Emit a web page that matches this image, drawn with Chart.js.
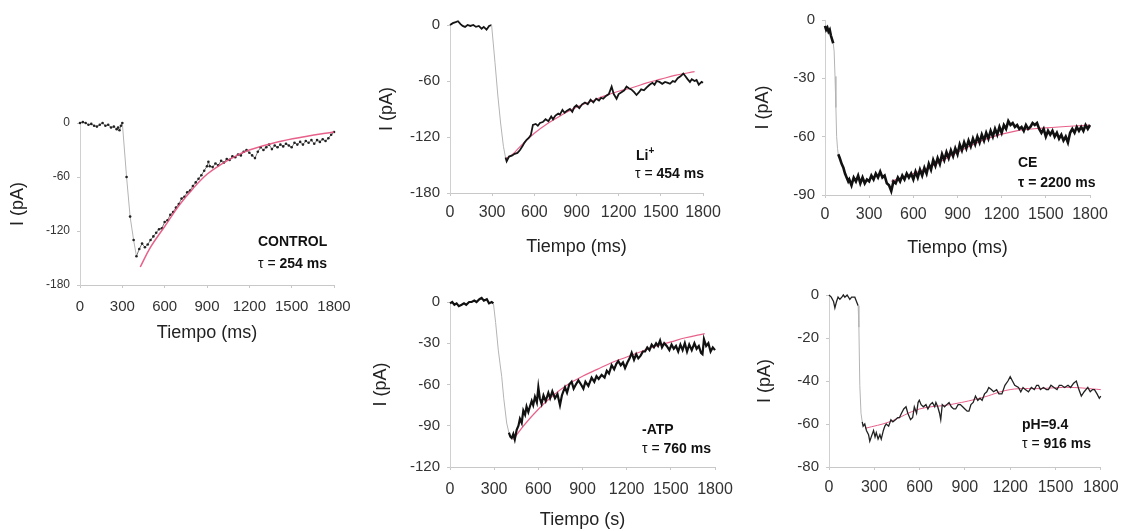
<!DOCTYPE html>
<html>
<head>
<meta charset="utf-8">
<script src="https://cdn.jsdelivr.net/npm/chart.js@4"></script>
<style>
body { margin: 0; background: #fff; width: 1127px; height: 531px; position: relative; overflow: hidden; font-family: "Liberation Sans", Arial, sans-serif; }
canvas { position: absolute; }
.note { position: absolute; font-size: 14px; font-weight: bold; color: #111; line-height: 16px; white-space: nowrap; transform: translateY(-50%); }
.note .t { font-weight: normal; }
.note sup { font-size: 10px; line-height: 0; }
</style>
</head>
<body>
<canvas id="c-control"></canvas>
<canvas id="c-li"></canvas>
<canvas id="c-ce"></canvas>
<canvas id="c-atp"></canvas>
<canvas id="c-ph"></canvas>

<div class="note" style="left:258px;top:241px">CONTROL</div>
<div class="note" style="left:258px;top:263px"><span class="t">τ = </span>254 ms</div>
<div class="note" style="left:636px;top:155px">Li<sup>+</sup></div>
<div class="note" style="left:635px;top:173px"><span class="t">τ = </span>454 ms</div>
<div class="note" style="left:1018px;top:162px">CE</div>
<div class="note" style="left:1018px;top:182px">τ = 2200 ms</div>
<div class="note" style="left:642px;top:429px">-ATP</div>
<div class="note" style="left:642px;top:448px"><span class="t">τ = </span>760 ms</div>
<div class="note" style="left:1022px;top:424px">pH=9.4</div>
<div class="note" style="left:1022px;top:443px"><span class="t">τ = </span>916 ms</div>

<script>
// time (ms), current (pA) pairs
var ctrlTrace = [[0,0],[20,1],[40,0],[60,-2],[80,-1],[100,-3],[120,-4],[140,-2],[160,0],[180,-3],[200,-2],[220,-5],[240,-4],[260,-7],[270,-5],[280,-8],[290,-3],[300,0],
  [330,-60],[355,-104],[380,-130],[400,-148],[420,-140],[440,-134],[460,-138],[480,-135],[500,-130],[520,-126],[540,-122],[560,-118],[580,-117],[600,-110],
  [620,-108],[640,-102],[660,-99],[680,-94],[700,-90],[720,-84],[740,-82],[760,-77],[780,-75],[800,-70],[820,-66],[840,-62],[860,-58],[880,-53],[900,-48],
  [910,-43],[920,-48],[940,-49],[960,-45],[980,-47],[1000,-42],[1020,-44],[1040,-40],[1060,-41],[1080,-37],[1100,-38],[1120,-35],[1140,-36],[1160,-32],
  [1180,-30],[1200,-33],[1220,-36],[1240,-39],[1260,-32],[1280,-27],[1300,-30],[1320,-27],[1340,-24],[1360,-29],[1380,-25],[1400,-27],[1420,-24],[1440,-26],
  [1460,-23],[1480,-25],[1500,-27],[1520,-22],[1540,-24],[1560,-21],[1580,-24],[1600,-20],[1620,-22],[1640,-19],[1660,-23],[1680,-19],[1700,-21],[1720,-18],
  [1740,-20],[1760,-17],[1780,-13],[1800,-10]];
var ctrlFit = [[427,-160],[500,-138],[600,-115],[700,-92],[800,-73],[900,-57],[1000,-46],[1100,-37],[1200,-30],[1400,-21],[1600,-15],[1800,-10]];

var liTrace = [[0,0],[20,2],[40,3],[57,4],[75,1],[90,-1],[107,-2],[125,0],[145,-1],[166,0],[185,-2],[205,-1],[225,-4],[240,-2],[260,-5],[278,-1],[296,0],
  [320,-40],[340,-75],[360,-105],[380,-130],[395,-142],[403,-146],[420,-141],[440,-140],[460,-138],[480,-137],[498,-134],[515,-130],[530,-126],[545,-123],
  [560,-121],[575,-118],[590,-107],[610,-106],[625,-108],[640,-105],[660,-104],[680,-101],[700,-103],[720,-98],[733,-101],[750,-97],[770,-95],[782,-96],
  [800,-91],[815,-94],[830,-92],[853,-90],[870,-93],[885,-88],[900,-86],[920,-89],[940,-85],[960,-83],[980,-85],[1000,-80],[1020,-83],[1040,-79],[1060,-81],
  [1075,-78],[1090,-79],[1110,-76],[1130,-74],[1150,-66],[1165,-74],[1185,-79],[1200,-74],[1220,-72],[1240,-70],[1256,-66],[1275,-68],[1290,-69],[1310,-72],
  [1327,-75],[1345,-72],[1360,-69],[1380,-70],[1398,-67],[1420,-64],[1440,-62],[1455,-64],[1470,-60],[1490,-61],[1510,-63],[1530,-61],[1550,-62],[1565,-63],
  [1585,-60],[1600,-61],[1620,-57],[1640,-55],[1660,-52],[1675,-55],[1690,-58],[1707,-61],[1720,-58],[1740,-60],[1754,-59],[1770,-64],[1790,-61],[1800,-62]];
var liFit = [[400,-143],[450,-138],[500,-130],[600,-116],[700,-105],[800,-96],[900,-88],[1000,-82],[1100,-76],[1200,-71],[1300,-67],[1400,-62],[1500,-58],[1600,-54],[1740,-50]];

var ceTrace = [[0,-3],[8,-5],[16,-4],[24,-6],[32,-5],[40,-8],[48,-10],[56,-12],[62,-16],[68,-29],[74,-45],[79,-60],[85,-66],[90,-69],[100,-71],[113,-74],
  [125,-76],[136,-79],[147,-81],[158,-83],[165,-82],[180,-85],[195,-81],[210,-83],[225,-80],[240,-84],[255,-81],[270,-84],[285,-82],[300,-83],[315,-80],
  [330,-82],[345,-79],[360,-81],[375,-78],[390,-81],[405,-80],[420,-84],[435,-85],[450,-88],[465,-83],[480,-84],[495,-81],[510,-83],[525,-80],[540,-82],
  [555,-79],[570,-81],[585,-79],[600,-82],[615,-78],[630,-81],[645,-77],[660,-80],[675,-76],[690,-79],[705,-74],[720,-77],[735,-72],[750,-75],[765,-71],
  [780,-74],[795,-69],[810,-72],[825,-68],[840,-71],[855,-67],[870,-70],[885,-66],[900,-69],[915,-64],[930,-67],[945,-63],[960,-66],[975,-62],[990,-65],
  [1005,-61],[1020,-64],[1035,-60],[1050,-63],[1065,-59],[1080,-62],[1095,-58],[1110,-61],[1125,-57],[1140,-60],[1155,-56],[1170,-59],[1185,-55],[1200,-58],
  [1215,-54],[1230,-56],[1245,-52],[1260,-54],[1275,-53],[1290,-55],[1305,-54],[1320,-56],[1335,-55],[1350,-57],[1365,-54],[1380,-56],[1395,-55],[1410,-53],
  [1425,-54],[1440,-53],[1455,-56],[1470,-58],[1485,-56],[1500,-60],[1515,-57],[1530,-59],[1545,-57],[1560,-60],[1575,-58],[1590,-61],[1605,-59],[1620,-62],
  [1635,-60],[1650,-63],[1665,-58],[1680,-56],[1695,-58],[1710,-55],[1725,-57],[1740,-55],[1755,-57],[1770,-54],[1785,-56],[1800,-54]];
var ceFit = [[450,-83],[700,-76],[900,-68],[1100,-61],[1300,-57],[1500,-55.5],[1800,-54]];

var atpTrace = [[0,-1],[15,0],[30,-2],[45,-1],[60,-3],[79,-2],[95,-1],[110,-2],[130,0],[147,0],[165,1],[180,0],[200,2],[215,3],[230,1],[250,2],[265,-1],[283,0],[295,-1],
  [310,-15],[328,-35],[340,-45],[351,-54],[365,-70],[385,-88],[400,-95],[410,-98],[419,-99],[430,-96],[440,-100],[453,-93],[465,-90],[475,-85],[487,-88],
  [498,-79],[510,-82],[520,-76],[532,-80],[543,-76],[555,-72],[565,-75],[577,-69],[590,-73],[600,-62],[610,-70],[622,-74],[635,-68],[650,-72],[668,-66],
  [680,-70],[695,-65],[713,-70],[730,-67],[747,-75],[760,-68],[770,-65],[781,-62],[795,-66],[810,-60],[826,-58],[840,-63],[855,-60],[872,-57],[890,-60],
  [906,-63],[920,-58],[940,-61],[962,-55],[980,-58],[995,-54],[1010,-56],[1030,-53],[1050,-55],[1065,-50],[1080,-52],[1098,-46],[1115,-49],[1130,-45],
  [1143,-43],[1160,-46],[1175,-44],[1189,-48],[1205,-44],[1220,-41],[1234,-37],[1250,-42],[1265,-38],[1279,-41],[1295,-39],[1310,-36],[1325,-36],[1340,-33],
  [1355,-35],[1370,-31],[1385,-33],[1400,-30],[1413,-32],[1427,-28],[1440,-33],[1455,-30],[1472,-32],[1490,-35],[1505,-31],[1520,-34],[1535,-32],[1550,-36],
  [1565,-31],[1580,-35],[1595,-30],[1610,-36],[1625,-31],[1642,-35],[1660,-30],[1675,-34],[1690,-32],[1705,-37],[1715,-38],[1725,-27],[1740,-32],[1755,-30],
  [1770,-36],[1785,-33],[1800,-35]];
var atpFit = [[430,-100],[500,-90],[600,-78],[700,-68],[800,-60],[900,-54],[1000,-49],[1100,-44],[1200,-40],[1300,-36],[1400,-32],[1500,-29],[1600,-26],[1730,-23]];

var phTrace = [[0,0],[15,-1],[30,-3],[39,-6],[50,-3],[60,-1],[72,-2],[85,-1],[95,0],[105,-1],[120,0],[138,-2],[150,-1],[160,-1],[171,-1],[182,-3],[193,-5],
  [198,-15],[204,-42],[212,-55],[220,-59],[226,-61],[237,-60],[248,-63],[262,-65],[270,-68],[280,-66],[295,-63],[305,-66],[313,-64],[325,-67],[337,-65],
  [346,-67],[360,-63],[370,-61],[379,-60],[395,-61],[410,-58],[423,-59],[440,-58],[455,-57],[467,-57],[480,-55],[495,-53],[510,-52],[522,-55],[540,-58],
  [554,-57],[565,-52],[580,-55],[590,-50],[598,-49],[610,-51],[625,-52],[642,-51],[655,-53],[670,-51],[685,-50],[700,-52],[708,-50],[720,-52],[732,-55],
  [740,-58],[750,-51],[765,-52],[780,-51],[795,-50],[810,-52],[825,-53],[839,-53],[855,-51],[870,-51],[885,-52],[900,-53],[915,-54],[927,-54],[940,-51],
  [955,-50],[970,-47],[985,-49],[1000,-48],[1014,-49],[1030,-46],[1045,-45],[1058,-43],[1075,-44],[1090,-45],[1110,-44],[1125,-46],[1145,-46],[1165,-42],
  [1185,-40],[1200,-38],[1215,-40],[1230,-42],[1255,-43],[1270,-45],[1285,-43],[1300,-44],[1321,-45],[1340,-43],[1360,-44],[1375,-42],[1387,-42],[1400,-44],
  [1420,-43],[1440,-44],[1453,-44],[1470,-42],[1490,-43],[1510,-44],[1525,-42],[1540,-42],[1560,-43],[1583,-42],[1600,-43],[1620,-41],[1638,-40],[1655,-44],
  [1671,-47],[1690,-45],[1714,-43],[1730,-45],[1745,-44],[1758,-44],[1775,-46],[1790,-48],[1800,-47]];
var phFit = [[240,-62],[400,-59],[600,-53],[800,-51],[1000,-48],[1200,-44],[1400,-43.5],[1600,-43],[1800,-44]];

var xRange = [0, 1800, 300];
var PINK = 'rgba(228,80,125,0.9)';
var FONT = '"Liberation Sans", Arial, sans-serif';
var TITLE_SIZE = 18;

function pts(pairs) {
    return pairs.map(function (p) { return {x: p[0], y: p[1]}; });
}

// box = pixel rect of the axes on the page, the rest is text placement
// drop = time window (ms) where the trace is drawn as a thin grey jump
var panels = [
    {id: 'c-control', trace: ctrlTrace, fit: ctrlFit, yMin: -180, yStep: 60, box: {L: 80, R: 334, T: 123, B: 285},
     yTitleX: 18, xTickY: 307, xTitleY: 333, xTitle: 'Tiempo (ms)', yFont: 12, xFont: 15, padRight: 30,
     line: '#777', lw: 1, dots: 1.3, drop: [300, 400], fitOnTop: true, fitW: 1.5},
    {id: 'c-li', trace: liTrace, fit: liFit, yMin: -180, yStep: 60, box: {L: 450, R: 703, T: 25, B: 193},
     yTitleX: 387, xTickY: 213, xTitleY: 247, xTitle: 'Tiempo (ms)', yFont: 15, xFont: 16, padRight: 30,
     line: '#151515', lw: 1.8, dots: 0, drop: [296, 395], fitOnTop: false, fitW: 1.2},
    {id: 'c-ce', trace: ceTrace, fit: ceFit, yMin: -90, yStep: 30, box: {L: 825, R: 1090, T: 20, B: 195},
     yTitleX: 763, xTickY: 215, xTitleY: 248, xTitle: 'Tiempo (ms)', yFont: 15, xFont: 16, padRight: 30,
     line: '#111', lw: 2.6, dots: 0, drop: [56, 90], fitOnTop: false, fitW: 1.2},
    {id: 'c-atp', trace: atpTrace, fit: atpFit, yMin: -120, yStep: 30, box: {L: 450, R: 715, T: 302, B: 467},
     yTitleX: 381, xTickY: 490, xTitleY: 520, xTitle: 'Tiempo (s)', yFont: 15, xFont: 16, padRight: 30,
     line: '#111', lw: 2.2, dots: 0, drop: [295, 400], fitOnTop: false, fitW: 1.2},
    {id: 'c-ph', trace: phTrace, fit: phFit, yMin: -80, yStep: 20, box: {L: 829, R: 1103, T: 295, B: 467},
     yTitleX: 765, xTickY: 488, xTitleY: null, xTitle: '', yFont: 15, xFont: 16, padRight: 24,
     line: '#222', lw: 1.3, dots: 0, drop: [193, 220], fitOnTop: false, fitW: 1}
];

function makePanel(p) {
    var cv = document.getElementById(p.id);
    var padTop = 25, tl = 3;
    var half = TITLE_SIZE * 0.6 + 2;
    var left = Math.round(p.yTitleX - half);
    var top = p.box.T - padTop;
    var right = p.box.R + p.padRight;
    var bottom = p.xTitle ? Math.round(p.xTitleY + half) : p.box.B + 40;
    cv.width = right - left;
    cv.height = bottom - top;
    cv.style.left = left + 'px';
    cv.style.top = top + 'px';
    var yW = p.box.L - left;
    var xH = bottom - p.box.B;
    var xPad = p.xTickY - p.box.B - tl - p.xFont * 0.6;

    var inDrop = function (c) {
        return c.p0.parsed.x >= p.drop[0] && c.p1.parsed.x <= p.drop[1];
    };
    var traceSet = {
        data: pts(p.trace), borderColor: p.line, borderWidth: p.lw, tension: 0,
        pointRadius: p.dots, pointBackgroundColor: '#222', pointBorderWidth: 0,
        clip: 8,
        segment: {
            borderColor: function (c) { return inDrop(c) ? '#b4b4b4' : undefined; },
            borderWidth: function (c) { return inDrop(c) ? 1 : undefined; }
        }
    };
    var fitSet = {
        data: pts(p.fit), borderColor: PINK, borderWidth: p.fitW, tension: 0.4, pointRadius: 0, clip: 8
    };
    var sets = p.fitOnTop ? [fitSet, traceSet] : [traceSet, fitSet];

    new Chart(cv, {
        type: 'line',
        data: {datasets: sets},
        options: {
            responsive: false,
            animation: false,
            layout: {padding: {left: 0, top: padTop, right: p.padRight, bottom: 0}},
            plugins: {legend: {display: false}, tooltip: {enabled: false}},
            scales: {
                x: {
                    type: 'linear', min: xRange[0], max: xRange[1],
                    afterFit: function (s) { s.height = xH; },
                    ticks: {stepSize: xRange[2], autoSkip: false, maxRotation: 0, padding: xPad, color: '#333',
                            font: {size: p.xFont, family: FONT},
                            callback: function (v) { return String(v); }},
                    grid: {drawOnChartArea: false, tickLength: tl, color: '#c8c8c8'},
                    border: {color: '#c8c8c8'},
                    title: {display: !!p.xTitle, text: p.xTitle, color: '#222', padding: {top: 0, bottom: 2},
                            font: {size: TITLE_SIZE, family: FONT}}
                },
                y: {
                    min: p.yMin, max: 0,
                    afterFit: function (s) { s.width = yW; },
                    ticks: {stepSize: p.yStep, padding: 7, color: '#333',
                            font: {size: p.yFont, family: FONT},
                            callback: function (v) { return String(v); }},
                    grid: {drawOnChartArea: false, tickLength: tl, color: '#c8c8c8'},
                    border: {color: '#d0d0d0'},
                    title: {display: true, text: 'I (pA)', color: '#222', padding: {top: 2, bottom: 0},
                            font: {size: TITLE_SIZE, family: FONT}}
                }
            }
        }
    });
}

panels.forEach(makePanel);
</script>
</body>
</html>
